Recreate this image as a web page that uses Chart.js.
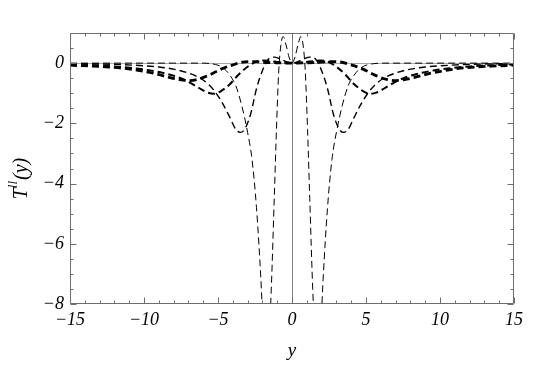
<!DOCTYPE html>
<html>
<head>
<meta charset="utf-8">
<script src="https://cdn.jsdelivr.net/npm/chart.js@4.4.1/dist/chart.umd.min.js"></script>
<style>
  html, body { margin: 0; padding: 0; background: #ffffff; }
  #wrap { width: 545px; height: 366px; position: relative; }
</style>
</head>
<body>
<div id="wrap"><canvas id="c" width="545" height="366"></canvas></div>
<script>
// ---- data ----
const xTicks = [-15, -10, -5, 0, 5, 10, 15];
const yTicks = [-8, -6, -4, -2, 0];
const xTitle = 'y';

// curve A (thinnest, narrowest)
const aX = [-15, -11, -8, -6, -5.5, -5.0, -4.6, -4.2, -3.8, -3.4, -3.0, -2.7, -2.4, -2.1, -1.9, -1.75, -1.6, -1.4, -1.2, -1.05, -0.9, -0.75, -0.6, -0.4, -0.2,
            0, 0.2, 0.4, 0.6, 0.75, 0.9, 1.05, 1.2, 1.4, 1.6, 1.75, 1.9, 2.1, 2.4, 2.7, 3.0, 3.4, 3.8, 4.2, 4.6, 5.0, 5.5, 6, 8, 11, 15];
const aY = [0, 0, 0, 0, -0.02, -0.07, -0.18, -0.4, -0.75, -1.4, -2.3, -3.2, -4.8, -7.2, -9.3, -10, -9.5, -7.5, -4.5, -2.2, -0.3, 0.6, 0.88, 0.6, 0.2,
            0, 0.2, 0.6, 0.88, 0.6, -0.3, -2.2, -4.5, -7.5, -9.5, -10, -9.3, -7.2, -4.8, -3.2, -2.3, -1.4, -0.75, -0.4, -0.18, -0.07, -0.02, 0, 0, 0, 0];

// curve B
const bX = [-15, -13, -11.5, -10, -9, -8, -7, -6.2, -5.7, -5.2, -4.7, -4.2, -3.8, -3.5, -3.2, -2.8, -2.4, -2.0, -1.6, -1.2, -0.8, -0.4,
            0, 0.4, 0.8, 1.2, 1.6, 2.0, 2.4, 2.8, 3.2, 3.5, 3.8, 4.2, 4.7, 5.2, 5.7, 6.2, 7, 8, 9, 10, 11.5, 13, 15];
const bY = [-0.02, -0.03, -0.05, -0.09, -0.13, -0.2, -0.33, -0.5, -0.68, -0.95, -1.33, -1.8, -2.2, -2.3, -2.2, -1.7, -0.85, -0.25, 0.13, 0.2, 0.14, 0.05,
            0, 0.05, 0.14, 0.2, 0.13, -0.25, -0.85, -1.7, -2.2, -2.3, -2.2, -1.8, -1.33, -0.95, -0.68, -0.5, -0.33, -0.2, -0.13, -0.09, -0.05, -0.03, -0.02];

// curve C
const cX = [-15, -13, -11.5, -10.5, -9.5, -8.7, -7.8, -7.0, -6.3, -5.7, -5.25, -4.8, -4.2, -3.6, -3.0, -2.4, -1.9, -1.5, -0.8,
            0, 0.8, 1.5, 1.9, 2.4, 3.0, 3.6, 4.2, 4.8, 5.25, 5.7, 6.3, 7.0, 7.8, 8.7, 9.5, 10.5, 11.5, 13, 15];
const cY = [-0.05, -0.08, -0.13, -0.18, -0.25, -0.33, -0.45, -0.62, -0.82, -0.98, -1.02, -0.93, -0.7, -0.38, -0.12, 0.05, 0.09, 0.07, 0.03,
            0, 0.03, 0.07, 0.09, 0.05, -0.12, -0.38, -0.7, -0.93, -1.02, -0.98, -0.82, -0.62, -0.45, -0.33, -0.25, -0.18, -0.13, -0.08, -0.05];

// curve D (thickest, widest)
const dX = [-15, -13.5, -12.4, -11.4, -10.4, -9.4, -8.4, -7.6, -7.0, -6.4, -5.6, -4.8, -4.0, -3.2, -2.5, -2, -1,
            0, 1, 2, 2.5, 3.2, 4.0, 4.8, 5.6, 6.4, 7.0, 7.6, 8.4, 9.4, 10.4, 11.4, 12.4, 13.5, 15];
const dY = [-0.07, -0.1, -0.13, -0.17, -0.24, -0.33, -0.46, -0.55, -0.58, -0.54, -0.4, -0.2, -0.06, 0.04, 0.05, 0.03, 0.01,
            0, 0.01, 0.03, 0.05, 0.04, -0.06, -0.2, -0.4, -0.54, -0.58, -0.55, -0.46, -0.33, -0.24, -0.17, -0.13, -0.1, -0.07];

const pts = (xs, ys) => xs.map((x, i) => ({ x: x, y: ys[i] }));

const SERIF = '"Liberation Serif", "DejaVu Serif", serif';
const FRAME = '#6e6e6e';

function fmt(v) {
  return v < 0 ? '\u2212' + Math.abs(v) : String(v);
}

const framePlugin = {
  id: 'frame',
  beforeDatasetsDraw(chart) {
    const { ctx, chartArea: a, scales: { x, y } } = chart;
    ctx.save();
    ctx.lineWidth = 1;
    ctx.strokeStyle = '#a8a8a8';
    const y0 = Math.round(y.getPixelForValue(0)) + 0.5;
    ctx.beginPath(); ctx.moveTo(a.left, y0); ctx.lineTo(a.right, y0); ctx.stroke();
    ctx.strokeStyle = '#808080';
    const x0 = Math.round(x.getPixelForValue(0)) + 0.5;
    ctx.beginPath(); ctx.moveTo(x0, a.top); ctx.lineTo(x0, a.bottom); ctx.stroke();
    ctx.restore();
  },
  afterDatasetsDraw(chart) {
    const { ctx, chartArea: a, scales: { x, y } } = chart;
    ctx.save();
    ctx.strokeStyle = FRAME;
    ctx.lineWidth = 1;
    const L = Math.round(a.left) + 0.5, R = Math.round(a.right) - 0.5;
    const T = Math.round(a.top) + 0.5, B = Math.round(a.bottom) - 0.5;
    ctx.beginPath();
    ctx.rect(L, T, R - L, B - T);
    ctx.stroke();
    ctx.beginPath();
    for (let v = x.min; v <= x.max + 1e-9; v += 1) {
      const px = Math.round(x.getPixelForValue(v)) + 0.5;
      const len = (Math.abs(v % 5) < 1e-9) ? 6 : 3;
      ctx.moveTo(px, B); ctx.lineTo(px, B - len);
      ctx.moveTo(px, T); ctx.lineTo(px, T + len);
    }
    for (let v = y.min; v <= y.max + 1e-9; v += 0.5) {
      const py = Math.round(y.getPixelForValue(v)) + 0.5;
      const len = (Math.abs(v % 2) < 1e-9) ? 6 : 3;
      ctx.moveTo(L, py); ctx.lineTo(L + len, py);
      ctx.moveTo(R, py); ctx.lineTo(R - len, py);
    }
    ctx.stroke();
    ctx.restore();
  },
  afterDraw(chart) {
    const { ctx, chartArea: a } = chart;
    ctx.save();
    const big = 'italic 20px ' + SERIF;
    const small = 'italic 13px ' + SERIF;
    ctx.font = big; const w1 = ctx.measureText('T').width;
    ctx.font = small; const w2 = ctx.measureText('ll').width;
    ctx.font = big; const w3 = ctx.measureText('(y)').width;
    const total = w1 + w2 + 1 + w3;
    ctx.translate(22, (a.top + a.bottom) / 2 + 10);
    ctx.rotate(-Math.PI / 2);
    ctx.fillStyle = '#000';
    ctx.textBaseline = 'middle';
    let cx = -total / 2;
    ctx.font = big; ctx.fillText('T', cx, 0); cx += w1;
    ctx.font = small; ctx.fillText('ll', cx, -8); cx += w2 + 1;
    ctx.font = big; ctx.fillText('(y)', cx, 0);
    ctx.restore();
  }
};

function ds(data, width) {
  return {
    data: data,
    showLine: true,
    borderColor: '#000',
    borderWidth: width,
    borderDash: [7, 4],
    borderCapStyle: 'butt',
    pointRadius: 0,
    fill: false,
    cubicInterpolationMode: 'monotone',
    clip: 0
  };
}

new Chart(document.getElementById('c'), {
  type: 'scatter',
  data: {
    datasets: [
      ds(pts(aX, aY), 1),
      ds(pts(bX, bY), 1.4),
      ds(pts(cX, cY), 2),
      ds(pts(dX, dY), 2.8)
    ]
  },
  options: {
    responsive: false,
    animation: false,
    devicePixelRatio: 1,
    layout: { padding: { top: 33, right: 31, left: 0, bottom: 0 } },
    plugins: { legend: { display: false }, tooltip: { enabled: false } },
    scales: {
      x: {
        type: 'linear',
        min: -15, max: 15,
        afterBuildTicks: s => { s.ticks = xTicks.map(v => ({ value: v })); },
        afterFit: s => { s.height = 62; },
        grid: { display: false, drawTicks: false },
        border: { display: false },
        ticks: {
          padding: 5,
          color: '#000',
          font: { family: SERIF, size: 18, style: 'italic' },
          callback: v => fmt(v),
          maxRotation: 0
        },
        title: {
          display: true,
          text: xTitle,
          color: '#000',
          font: { family: SERIF, size: 19, style: 'italic' },
          padding: { top: 0, bottom: 4 }
        }
      },
      y: {
        type: 'linear',
        min: -8, max: 1,
        afterBuildTicks: s => { s.ticks = yTicks.map(v => ({ value: v })); },
        afterFit: s => { s.width = 70; },
        grid: { display: false, drawTicks: false },
        border: { display: false },
        ticks: {
          padding: 6,
          color: '#000',
          font: { family: SERIF, size: 18, style: 'italic' },
          callback: v => fmt(v)
        }
      }
    }
  },
  plugins: [framePlugin]
});
</script>
</body>
</html>
